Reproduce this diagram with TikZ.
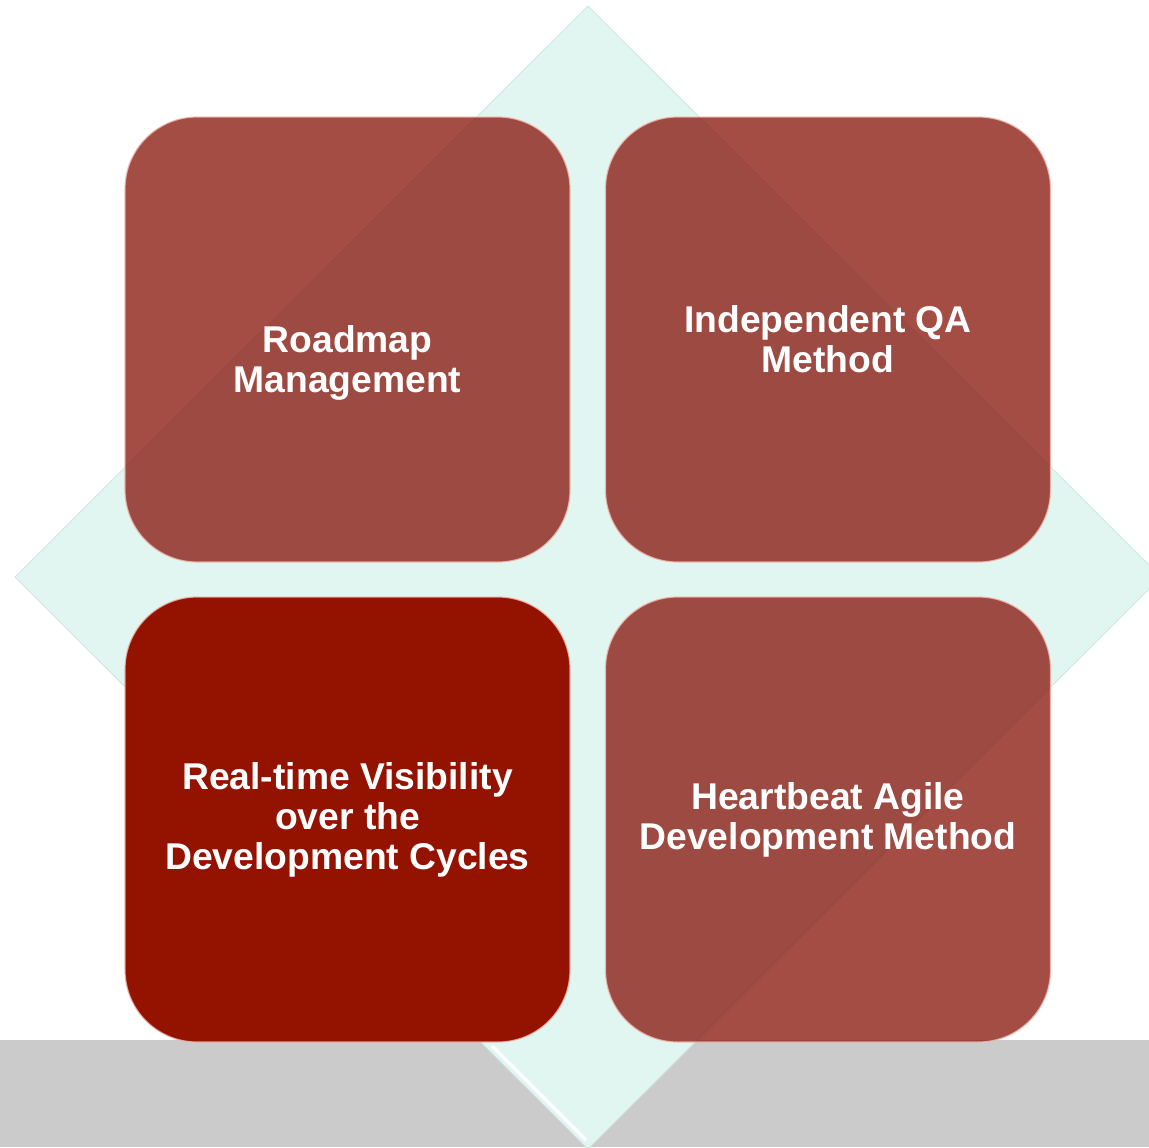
\documentclass[tikz,border=0pt]{standalone}
\usepackage{fontspec}
\setmainfont{Liberation Sans}
\usetikzlibrary{positioning}

\definecolor{boxred}{HTML}{8C2017}
\definecolor{deepred}{HTML}{931200}
\definecolor{mint}{HTML}{E1F6F0}
\definecolor{mintedge}{HTML}{CDE8DF}
\definecolor{floorgray}{HTML}{CBCBCB}
\definecolor{gloss}{HTML}{F2B9B1}

\begin{document}
\begin{tikzpicture}[x=0.2mm, y=-0.2mm,
	tile/.style={rectangle, rounded corners=14.4mm, minimum size=89mm, inner sep=0pt, fill=boxred, fill opacity=0.8, draw=gloss, draw opacity=0.8, line width=0.7pt},
	hottile/.style={tile, fill=deepred, fill opacity=1},
	caption/.style={font=\fontsize{21.2}{22.7}\selectfont\bfseries, text=white, align=center, inner sep=0pt}]
		\useasboundingbox (0, 0) rectangle (1149, 1147);
		\fill[floorgray] (0, 1040) rectangle (1149, 1147);
		\draw[fill=mint, draw=mintedge, line width=0.5pt] (588, 6) -- (1161, 577) -- (588, 1149) -- (15, 577) -- cycle;
		\draw[white, line width=2pt] (492, 1046) -- (586, 1140);

		\node[tile]		(roadmap)	at (347.5, 339.5) {};
		\node[tile]		(qa)		at (828, 339.5) {};
		\node[hottile]	(realtime)	at (347.5, 819.5) {};
		\node[tile]		(heartbeat)	at (828, 819.5) {};

		\node[caption]	(roadmaptext)	at ([yshift=-4.6mm]roadmap.center) {Roadmap\\Management};
		\node[caption]	(qatext)		at (qa.center) {Independent QA\\Method};
		\node[caption]	(realtimetext)	at (realtime.center) {Real-time Visibility\\over the\\Development Cycles};
		\node[caption]	(heartbeattext)	at (heartbeat.center) {Heartbeat Agile\\Development Method};
	\end{tikzpicture}
\end{document}
